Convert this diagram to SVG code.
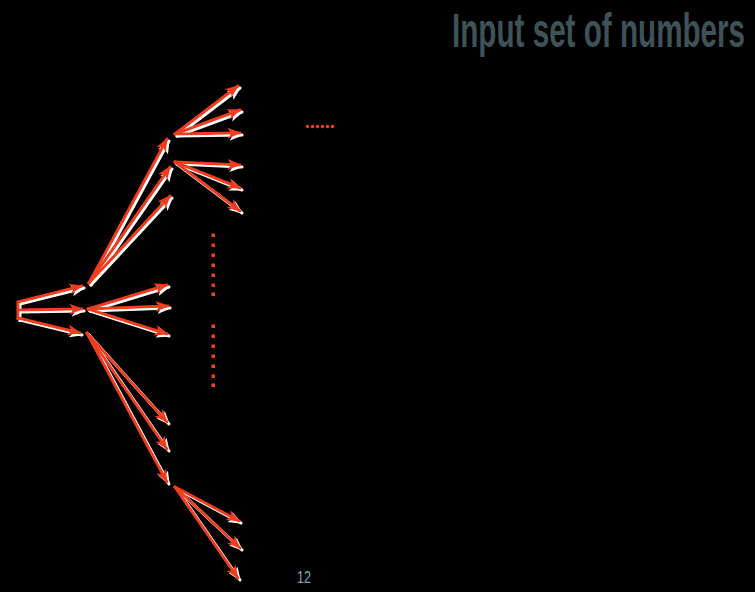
<svg xmlns="http://www.w3.org/2000/svg" width="755" height="592" viewBox="0 0 755 592">
<style>
.arr{stroke:#f23c1c;stroke-width:3;fill:none;stroke-linecap:round;marker-end:url(#ah)}
.dot{fill:#f2451c}
.title{font-family:"Liberation Sans","DejaVu Sans",sans-serif;font-size:49px;font-weight:bold;fill:#3f5257}
.pg{font-family:"Liberation Sans","DejaVu Sans",sans-serif;font-size:17px;fill:#8aa4ae}
</style>
<defs>
<marker id="ah" markerUnits="userSpaceOnUse" markerWidth="15" markerHeight="13" refX="12.5" refY="6.5" orient="auto">
<path d="M0,1 L14,6.5 L0,12 L3.5,6.5 z" fill="#f23c1c"/>
</marker>
<filter id="sh" x="-10%" y="-10%" width="120%" height="120%">
<feOffset in="SourceAlpha" dx="1.6" dy="1.8" result="o"/>
<feFlood flood-color="#ffffff"/>
<feComposite in2="o" operator="in" result="w"/>
<feMerge><feMergeNode in="w"/><feMergeNode in="SourceGraphic"/></feMerge>
</filter>
</defs>
<rect width="755" height="592" fill="#000"/>
<g id="title"><text class="title" transform="translate(452,47) scale(0.605,1)" x="0" y="0">Input set of numbers</text></g>
<g id="connectors" filter="url(#sh)">
<path d="M18,301 V320" stroke="#f23c1c" stroke-width="3"/>
<path class="arr" d="M18,302 L82,286"/>
<path class="arr" d="M18,310 L82,309"/>
<path class="arr" d="M18,318 L80,333"/>
<path class="arr" d="M89,283 L167,139"/>
<path class="arr" d="M89,283 L170,167"/>
<path class="arr" d="M89,283 L170,196"/>
<path class="arr" d="M88,309 L167,285"/>
<path class="arr" d="M88,309 L168,306"/>
<path class="arr" d="M88,309 L167,334"/>
<path class="arr" d="M87,333 L167,422"/>
<path class="arr" d="M87,333 L167,449"/>
<path class="arr" d="M87,333 L167,482"/>
<path class="arr" d="M175,134 L238,86"/>
<path class="arr" d="M175,134 L240,110"/>
<path class="arr" d="M175,134 L240,133"/>
<path class="arr" d="M175,162 L240,165"/>
<path class="arr" d="M175,162 L240,188"/>
<path class="arr" d="M175,162 L240,211"/>
<path class="arr" d="M175,487 L239,521"/>
<path class="arr" d="M175,487 L240,548"/>
<path class="arr" d="M175,487 L238,578"/>
</g>
<g id="dots-h">
<circle class="dot" cx="307.5" cy="126.5" r="1.7"/>
<circle class="dot" cx="312.5" cy="126.5" r="1.7"/>
<circle class="dot" cx="317.5" cy="126.5" r="1.7"/>
<circle class="dot" cx="322.5" cy="126.5" r="1.7"/>
<circle class="dot" cx="327.5" cy="126.5" r="1.7"/>
<circle class="dot" cx="332.5" cy="126.5" r="1.7"/>
</g>
<g id="dots-v1">
<rect class="dot" x="211.5" y="233.5" width="3.5" height="3.5"/>
<rect class="dot" x="211.5" y="243.5" width="3.5" height="3.5"/>
<rect class="dot" x="211.5" y="253.5" width="3.5" height="3.5"/>
<rect class="dot" x="211.5" y="263.5" width="3.5" height="3.5"/>
<rect class="dot" x="211.5" y="273.5" width="3.5" height="3.5"/>
<rect class="dot" x="211.5" y="283.5" width="3.5" height="3.5"/>
<rect class="dot" x="211.5" y="292.5" width="3.5" height="3.5"/>
</g>
<g id="dots-v2">
<rect class="dot" x="211.5" y="324.5" width="3.5" height="3.5"/>
<rect class="dot" x="211.5" y="334.5" width="3.5" height="3.5"/>
<rect class="dot" x="211.5" y="344.5" width="3.5" height="3.5"/>
<rect class="dot" x="211.5" y="354.5" width="3.5" height="3.5"/>
<rect class="dot" x="211.5" y="364.5" width="3.5" height="3.5"/>
<rect class="dot" x="211.5" y="374.5" width="3.5" height="3.5"/>
<rect class="dot" x="211.5" y="383.5" width="3.5" height="3.5"/>
</g>
<g id="page"><text class="pg" transform="translate(297,583) scale(0.74,1)" x="0" y="0">12</text></g>
</svg>
